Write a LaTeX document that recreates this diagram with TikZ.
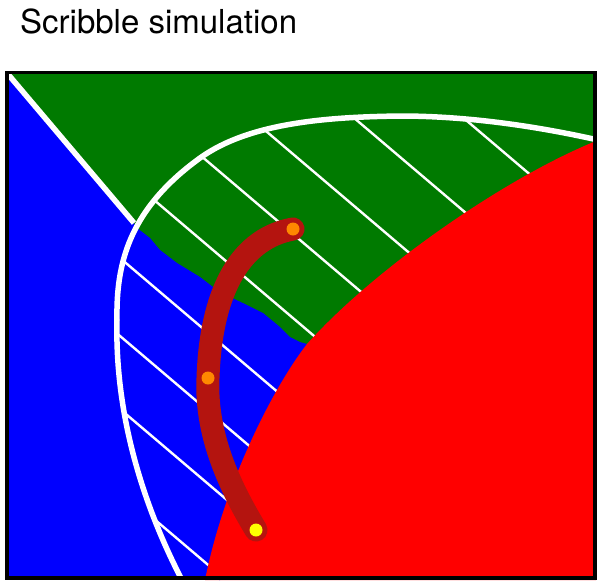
\documentclass[tikz,border=0pt]{standalone}
\usepackage{fontspec}
\setmainfont{TeX Gyre Heros}
\definecolor{gr}{RGB}{0,122,0}
\definecolor{bl}{RGB}{0,0,255}
\definecolor{rd}{RGB}{255,0,0}
\definecolor{brushred}{RGB}{180,20,15}
\definecolor{dotorange}{RGB}{255,136,0}
\definecolor{dotyellow}{RGB}{255,255,0}
\begin{document}
\begin{tikzpicture}[x=1pt,y=-1pt,
  thickwhite/.style={draw=white, line width=5.5pt},
  hatchline/.style={draw=white, line width=2.4pt},
  brush/.style={draw=brushred, line width=23pt, line cap=round},
  dotmark/.style={circle, inner sep=0pt, minimum size=13pt}]
\useasboundingbox (0,0) rectangle (605,584);
\node[anchor=base west, inner sep=0pt, font=\fontsize{33}{40}\selectfont] (title) at (20,33) {Scribble simulation};
% green background
\fill[gr] (7,72) rectangle (595,578);
% blue region
\fill[bl] (7,73) -- (133,222) -- (137,228) -- (150,238) -- (160,250) -- (177,263) -- (200,277) -- (213,287) -- (230,297) -- (247,305) -- (263,313) -- (280,327) -- (290,337) -- (300,342) -- (307,344) -- (320,350) -- (220,580) -- (7,578) -- cycle;
% hatching
\begin{scope}
\clip (183,582) .. controls (135,490) and (115,400) .. (117,320)
  .. controls (116,265) and (128,210) .. (200,158)
  .. controls (250,122) and (330,117) .. (400,116)
  .. controls (470,116) and (540,127) .. (598,140) -- (598,582) -- cycle;
\foreach \c in {-276,-183,-95,-15,69,156,234,307,388}
  \draw[hatchline] (100,85+\c) -- (600,510+\c);
\end{scope}
% red region
\fill[rd] (596,141) .. controls (505,178) and (375,268) .. (307,344)
  .. controls (275,385) and (225,480) .. (205,580) -- (596,580) -- cycle;
% thick white boundaries
\draw[thickwhite] (7,73) -- (134,223);
\draw[thickwhite] (183,582) .. controls (135,490) and (115,400) .. (117,320)
  .. controls (116,265) and (128,210) .. (200,158)
  .. controls (250,122) and (330,117) .. (400,116)
  .. controls (470,116) and (540,127) .. (598,140);
% scribble stroke and dots
\coordinate (p1) at (293,229);
\coordinate (p2) at (208,378);
\coordinate (p3) at (256,530);
\draw[brush] (p1) .. controls (243,238) and (211,287) .. (p2) .. controls (205,440) and (235,495) .. (p3);
\node[dotmark, fill=dotorange] (d1) at (p1) {};
\node[dotmark, fill=dotorange] (d2) at (p2) {};
\node[dotmark, fill=dotyellow] (d3) at (p3) {};
% frame
\draw[line width=3.6pt] (7,72.5) rectangle (595,578);
\end{tikzpicture}
\end{document}
